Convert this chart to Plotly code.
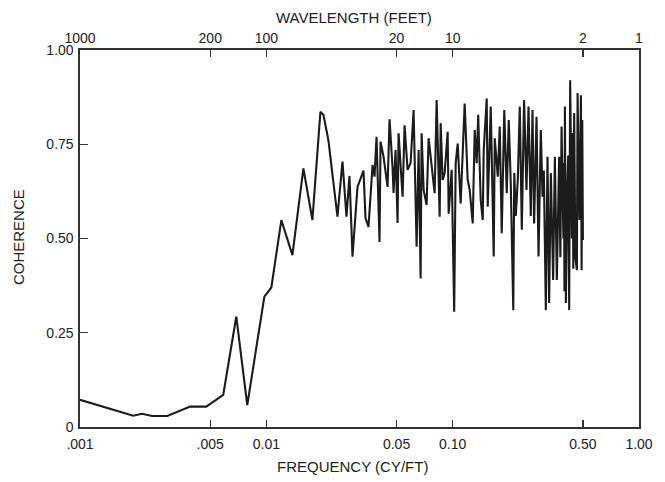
import plotly.graph_objects as go

# Frequency (cycles per foot) and coherence
FREQ = [
    0.00100, 0.00193, 0.00215, 0.00244, 0.00294, 0.00390, 0.00476, 0.00587, 0.00690, 0.00790,
    0.00976, 0.01064, 0.01204, 0.01380, 0.01581, 0.01767, 0.01951, 0.02025, 0.02154, 0.02408,
    0.02562, 0.02692, 0.02794, 0.02900, 0.03085, 0.03322, 0.03406, 0.03535, 0.03715, 0.03808,
    0.03903, 0.04050, 0.04101, 0.04256, 0.04473, 0.04585, 0.04758, 0.04818, 0.04938, 0.05062,
    0.05125, 0.05385, 0.05520, 0.05730, 0.05946, 0.06171, 0.06404, 0.06564, 0.06730, 0.06813,
    0.06984, 0.07247, 0.07430, 0.07807, 0.08003, 0.08204, 0.08410, 0.08515, 0.08621, 0.08838,
    0.09057, 0.09400, 0.09517, 0.09877, 0.1019, 0.1038, 0.1064, 0.1104, 0.1160, 0.1204,
    0.1234, 0.1281, 0.1313, 0.1346, 0.1371, 0.1414, 0.1450, 0.1468, 0.1523, 0.1542,
    0.1601, 0.1661, 0.1682, 0.1746, 0.1789, 0.1834, 0.1892, 0.1951, 0.2000, 0.2050,
    0.2115, 0.2141, 0.2181, 0.2236, 0.2292, 0.2350, 0.2417, 0.2490, 0.2553, 0.2626,
    0.2682, 0.2736, 0.2818, 0.2889, 0.2972, 0.3035, 0.3085, 0.3162, 0.3229, 0.3294,
    0.3365, 0.3461, 0.3535, 0.3623, 0.3728, 0.3784, 0.3841, 0.3929, 0.3960, 0.3980,
    0.4003, 0.4050, 0.4127, 0.4170, 0.4220, 0.4272, 0.4363, 0.4400, 0.4440, 0.4488,
    0.4555, 0.4642, 0.4682, 0.4787, 0.4880, 0.4920, 0.4960, 0.5000,
]
COHERENCE = [
    0.072, 0.030, 0.035, 0.029, 0.029, 0.054, 0.054, 0.085, 0.293, 0.058,
    0.346, 0.370, 0.549, 0.456, 0.686, 0.549, 0.836, 0.828, 0.760, 0.558,
    0.704, 0.558, 0.666, 0.452, 0.637, 0.680, 0.554, 0.531, 0.695, 0.664,
    0.770, 0.491, 0.757, 0.717, 0.637, 0.816, 0.687, 0.621, 0.735, 0.541,
    0.779, 0.611, 0.800, 0.682, 0.700, 0.841, 0.478, 0.735, 0.394, 0.779,
    0.629, 0.589, 0.766, 0.655, 0.620, 0.867, 0.682, 0.558, 0.806, 0.655,
    0.673, 0.783, 0.566, 0.682, 0.306, 0.700, 0.752, 0.593, 0.858, 0.655,
    0.629, 0.540, 0.788, 0.700, 0.828, 0.602, 0.549, 0.735, 0.871, 0.584,
    0.850, 0.452, 0.766, 0.664, 0.797, 0.514, 0.841, 0.620, 0.814, 0.647,
    0.310, 0.674, 0.560, 0.655, 0.850, 0.523, 0.867, 0.629, 0.850, 0.560,
    0.841, 0.540, 0.823, 0.452, 0.788, 0.611, 0.680, 0.310, 0.717, 0.329,
    0.674, 0.390, 0.717, 0.390, 0.717, 0.450, 0.797, 0.500, 0.700, 0.360,
    0.850, 0.329, 0.650, 0.720, 0.310, 0.920, 0.500, 0.780, 0.420, 0.833,
    0.450, 0.416, 0.886, 0.550, 0.880, 0.416, 0.814, 0.496,
]
assert len(FREQ) == len(COHERENCE)

FREQ_TICKS = [0.001, 0.005, 0.01, 0.05, 0.1, 0.5, 1.0]
FREQ_LABELS = [".001", ".005", "0.01", "0.05", "0.10", "0.50", "1.00"]
WAVE_LABELS = ["1000", "200", "100", "20", "10", "2", "1"]
COH_TICKS = [0, 0.25, 0.5, 0.75, 1.0]
COH_LABELS = ["0", "0.25", "0.50", "0.75", "1.00"]

INK = "#222222"
TICK_FONT = dict(family="Liberation Sans, Arial, sans-serif", size=14, color=INK)
TITLE_FONT = dict(family="Liberation Sans, Arial, sans-serif", size=15, color=INK)

fig = go.Figure()
fig.add_trace(go.Scatter(x=FREQ, y=COHERENCE, mode="lines",
                         line=dict(color="#1c1c1c", width=2.1),
                         hoverinfo="skip", showlegend=False))
# invisible companion trace so the top (wavelength) axis is drawn
fig.add_trace(go.Scatter(x=FREQ, y=COHERENCE, mode="lines", xaxis="x2",
                         line=dict(width=0), opacity=0,
                         hoverinfo="skip", showlegend=False))

axis_common = dict(showgrid=False, zeroline=False, showline=True,
                   linecolor="#333333", linewidth=1.6,
                   ticks="inside", tickcolor="#333333", tickwidth=1.3,
                   tickfont=TICK_FONT)

fig.update_layout(
    width=665, height=482,
    margin=dict(l=80, r=26, t=50, b=55),
    paper_bgcolor="white", plot_bgcolor="white",
    font=TICK_FONT,
    xaxis=dict(type="log", range=[-3, 0], tickvals=FREQ_TICKS,
               ticktext=FREQ_LABELS, ticklen=7, ticklabelstandoff=4,
               **axis_common),
    xaxis2=dict(type="log", range=[-3, 0], overlaying="x", side="top",
                tickvals=FREQ_TICKS, ticktext=WAVE_LABELS, ticklen=7,
                **axis_common),
    yaxis=dict(range=[0, 1], tickvals=COH_TICKS, ticktext=COH_LABELS,
               ticklen=8, mirror=True, ticklabelstandoff=2, **axis_common),
    annotations=[
        dict(text="FREQUENCY (CY/FT)", xref="paper", yref="paper",
             x=0.487, y=-0.106, showarrow=False, font=TITLE_FONT,
             xanchor="center", yanchor="middle"),
        dict(text="WAVELENGTH (FEET)", xref="paper", yref="paper",
             x=0.49, y=1.0875, showarrow=False, font=TITLE_FONT,
             xanchor="center", yanchor="middle"),
        dict(text="COHERENCE", xref="paper", yref="paper",
             x=-0.109, y=0.504, showarrow=False, font=TITLE_FONT,
             textangle=-90, xanchor="center", yanchor="middle"),
    ],
)

fig.write_html("out.html",
               config={"displayModeBar": False, "staticPlot": True},
               post_script="document.body.style.margin='0';"
                           "document.body.style.overflow='hidden';")
